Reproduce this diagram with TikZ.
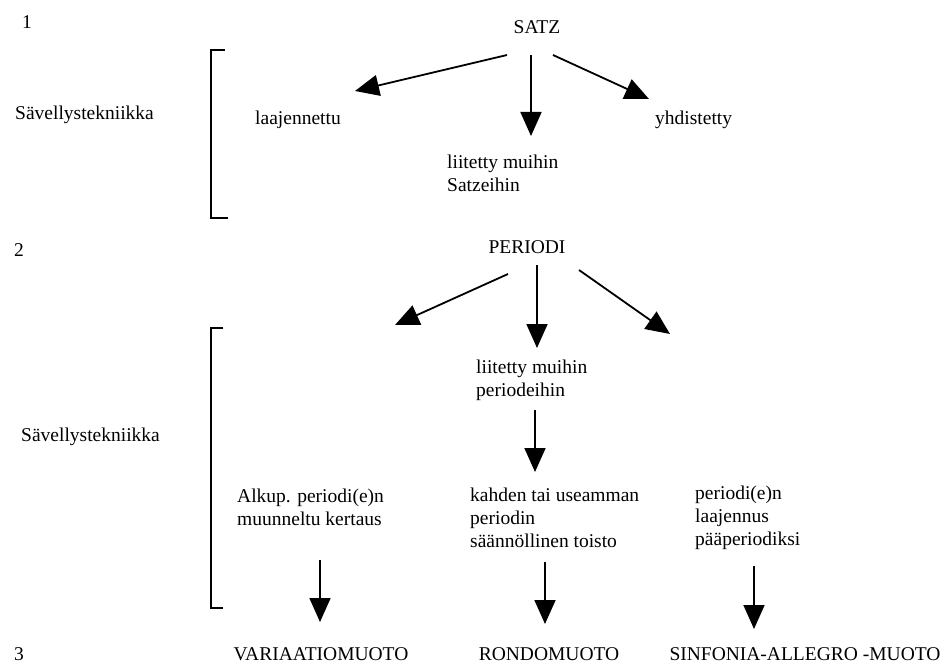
\documentclass[tikz,border=0pt]{standalone}
\usepackage{fontspec}
\setmainfont{Liberation Serif}
\usetikzlibrary{arrows.meta}
\tikzset{
  term/.style    = { inner sep=0pt, font=\fontsize{19.5}{23}\selectfont },
  note/.style    = { term, anchor=west, align=left },
  flow/.style    = { line width=1.8pt, -{Triangle[length=24pt,width=21pt]} },
  bracket/.style = { line width=1.8pt }
}

\begin{document}
\begin{tikzpicture}[x=1pt,y=-1pt]
\useasboundingbox (0,0) rectangle (951,671);
% levels
\node[term] (num1) at (27,22) {1};
\node[term] (num2) at (19,250) {2};
\node[term] (num3) at (19,654) {3};
\node[note] (tech1) at (15,115) {Sävellystekniikka};
\node[note] (tech2) at (21,437) {Sävellystekniikka};
\draw[bracket] (225,50) -- (211,50) -- (211,218) -- (228,218);
\draw[bracket] (223,328) -- (211,328) -- (211,608) -- (223,608);
% Satz
\node[term] (satz) at (537,27) {SATZ};
\node[note] (laaj) at (255,120) {laajennettu};
\node[note] (yhd) at (655,120) {yhdistetty};
\node[note] (liitS) at (447,173) {liitetty muihin\\Satzeihin};
\coordinate (satzL) at (507,55);
\coordinate (satzM) at (531,55);
\coordinate (satzR) at (553,55);
\coordinate (laajT) at (355,91);
\coordinate (liitST) at (531,136);
\coordinate (yhdT) at (649,99);
\draw[flow] (satzL) -- (laajT);
\draw[flow] (satzM) -- (liitST);
\draw[flow] (satzR) -- (yhdT);
% Periodi
\node[term] (periodi) at (527,247) {PERIODI};
\coordinate (perL) at (508,274);
\coordinate (perM) at (537,265);
\coordinate (perR) at (579,270);
\coordinate (perLT) at (395,325);
\coordinate (perMT) at (537,348);
\coordinate (perRT) at (670,334);
\draw[flow] (perL) -- (perLT);
\draw[flow] (perM) -- (perMT);
\draw[flow] (perR) -- (perRT);
\node[note] (liitP) at (476,380) {liitetty muihin\\periodeihin};
\node[note] (alkup) at (237,507) {Alkup. periodi(e)n\\muunneltu kertaus};
\node[note] (kahden) at (470,518) {kahden tai useamman\\periodin\\säännöllinen toisto};
\node[note] (laajP) at (695,518) {periodi(e)n\\laajennus\\pääperiodiksi};
\coordinate (liitPB) at (535,410);
\coordinate (kahdenT) at (535,472);
\draw[flow] (liitPB) -- (kahdenT);
% forms
\node[term] (vari) at (321,654) {VARIAATIOMUOTO};
\node[term] (rondo) at (549,654) {RONDOMUOTO};
\node[term] (sinf) at (805,654) {SINFONIA-ALLEGRO -MUOTO};
\coordinate (alkupB) at (320,560);
\coordinate (kahdenB) at (545,562);
\coordinate (laajPB) at (754,566);
\coordinate (variT) at (320,622);
\coordinate (rondoT) at (545,624);
\coordinate (sinfT) at (754,629);
\draw[flow] (alkupB) -- (variT);
\draw[flow] (kahdenB) -- (rondoT);
\draw[flow] (laajPB) -- (sinfT);
\end{tikzpicture}
\end{document}
